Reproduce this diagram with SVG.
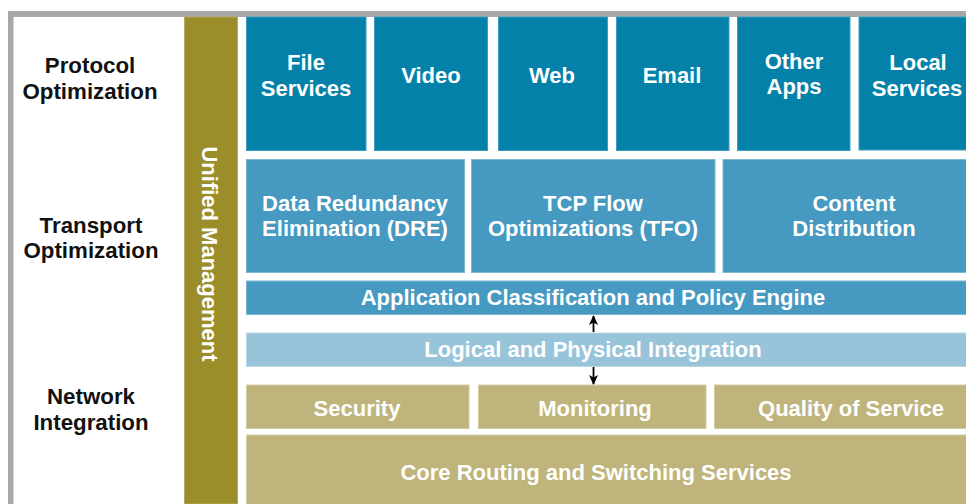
<svg xmlns="http://www.w3.org/2000/svg" width="966" height="504" viewBox="0 0 966 504">
<style>
.lbl{font-family:"Liberation Sans",Arial,sans-serif;font-weight:bold;font-size:22.3px;fill:#111;text-anchor:middle}
.t{font-family:"Liberation Sans",Arial,sans-serif;font-weight:bold;font-size:22px;fill:#fff;text-anchor:middle}
.dark{fill:#0381A8;stroke:#3f9fc0;stroke-width:1}
.mid{fill:#4699C0;stroke:#7db6d3;stroke-width:1}
.light{fill:#97C4D9;stroke:#b9d8e6;stroke-width:1}
.tan{fill:#BFB47B;stroke:#d3cba3;stroke-width:1}
.conn{stroke:#000;stroke-width:1.8;fill:none}
</style>
<defs>
<marker id="ah" viewBox="0 0 10 10" refX="9" refY="5" markerWidth="10" markerHeight="10" markerUnits="userSpaceOnUse" orient="auto">
<path d="M0,0.5 L10,5 L0,9.5 L2.5,5 Z" fill="#000"/>
</marker>
</defs>
<rect x="0" y="0" width="966" height="504" fill="#fff"/>
<rect x="8" y="11" width="958" height="6" fill="#A8A8A8"/>
<rect x="8" y="11" width="5.5" height="493" fill="#A8A8A8"/>

<g id="layer-labels">
<text class="lbl" x="90" y="73">Protocol</text>
<text class="lbl" x="90" y="99">Optimization</text>
<text class="lbl" x="91" y="233">Transport</text>
<text class="lbl" x="91" y="258">Optimization</text>
<text class="lbl" x="91" y="404">Network</text>
<text class="lbl" x="91" y="430">Integration</text>
</g>

<g id="unified-management">
<rect x="184.5" y="17" width="53" height="487" fill="#9B8E2A" stroke="#b5ab5e" stroke-width="1"/>
<text class="t" transform="translate(202,254) rotate(90)" x="0" y="0">Unified Management</text>
</g>

<g id="file-services"><rect class="dark" x="246.5" y="17" width="119.5" height="133.5"/><text class="t" x="306" y="70">File</text><text class="t" x="306" y="96">Services</text></g>
<g id="video"><rect class="dark" x="374.5" y="17" width="113" height="133.5"/><text class="t" x="431" y="83">Video</text></g>
<g id="web"><rect class="dark" x="498.5" y="17" width="109" height="133.5"/><text class="t" x="552" y="83">Web</text></g>
<g id="email"><rect class="dark" x="616.5" y="17" width="112.5" height="133.5"/><text class="t" x="672" y="83">Email</text></g>
<g id="other-apps"><rect class="dark" x="737.5" y="17" width="112.5" height="133.5"/><text class="t" x="794" y="69">Other</text><text class="t" x="794" y="94">Apps</text></g>
<g id="local-services"><rect class="dark" x="859" y="17" width="130" height="133"/><text class="t" x="918" y="70">Local</text><text class="t" x="917" y="96">Services</text></g>

<g id="dre"><rect class="mid" x="246.5" y="159.5" width="218" height="113"/><text class="t" x="355" y="211">Data Redundancy</text><text class="t" x="355" y="236">Elimination (DRE)</text></g>
<g id="tfo"><rect class="mid" x="471.5" y="159.5" width="243.5" height="113"/><text class="t" x="593" y="211">TCP Flow</text><text class="t" x="593" y="236">Optimizations (TFO)</text></g>
<g id="content-distribution"><rect class="mid" x="723" y="159.5" width="260" height="113"/><text class="t" x="854" y="211">Content</text><text class="t" x="854" y="236">Distribution</text></g>

<g id="app-classification"><rect class="mid" x="246.5" y="281" width="740" height="33.5"/><text class="t" x="593" y="305">Application Classification and Policy Engine</text></g>
<g id="logical-physical"><rect class="light" x="246.5" y="333" width="740" height="33.5"/><text class="t" x="593" y="357">Logical and Physical Integration</text></g>

<g id="security"><rect class="tan" x="246.5" y="385" width="222.5" height="43.5"/><text class="t" x="357" y="416">Security</text></g>
<g id="monitoring"><rect class="tan" x="478.5" y="385" width="227.5" height="43.5"/><text class="t" x="595" y="416">Monitoring</text></g>
<g id="qos"><rect class="tan" x="714.5" y="385" width="275" height="43.5"/><text class="t" x="851" y="416">Quality of Service</text></g>
<g id="core-routing"><rect class="tan" x="246.5" y="435" width="740" height="75"/><text class="t" x="596" y="480">Core Routing and Switching Services</text></g>

<g id="connectors">
<line class="conn" x1="593.5" y1="332" x2="593.5" y2="316" marker-end="url(#ah)"/>
<line class="conn" x1="593.5" y1="367" x2="593.5" y2="384" marker-end="url(#ah)"/>
</g>
</svg>
